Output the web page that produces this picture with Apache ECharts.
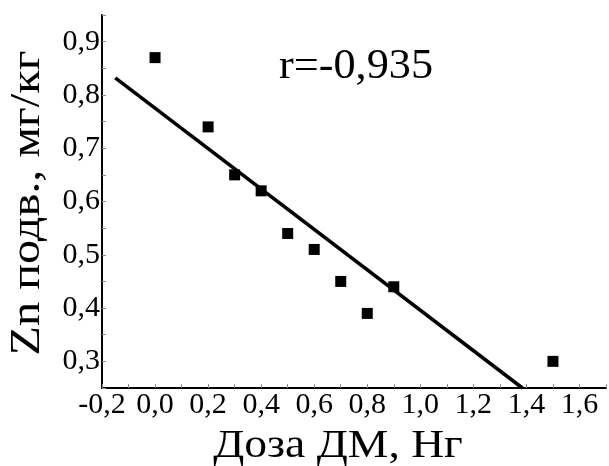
<!DOCTYPE html>
<html>
<head>
<meta charset="utf-8">
<script src="https://cdn.jsdelivr.net/npm/echarts@6/dist/echarts.min.js"></script>
<style>html,body{margin:0;padding:0;background:#fff}#c{width:609px;height:466px}</style>
</head>
<body>
<div id="c"></div>
<script>
const doseX = [0.0, 0.2, 0.3, 0.4, 0.5, 0.6, 0.7, 0.8, 0.9, 1.5];
const znY = [0.87, 0.74, 0.65, 0.62, 0.54, 0.51, 0.45, 0.39, 0.44, 0.30];
const fitX = [-0.15, 1.385];
const fitY = [0.832, 0.25];
const xTitle = 'Доза ДМ, Нг';
const yTitle = 'Zn подв., мг/кг';
const rText = 'r=-0,935';

const font = '"Liberation Serif", "Times New Roman", serif';
const chart = echarts.init(document.getElementById('c'), null, {renderer: 'canvas'});
const fmt = (v, step) => {
  const k = Math.round(v / step);
  if (k % 2 !== 0) return '';
  return (Math.round(v * 10) / 10).toFixed(1).replace('.', ',');
};
chart.setOption({
  animation: false,
  grid: {left: 102, top: 15, right: 0, bottom: 78},
  xAxis: {
    type: 'value', min: -0.2, max: 1.7, interval: 0.1,
    axisLine: {onZero: false, lineStyle: {color: '#000', width: 2}},
    axisTick: {inside: true, length: 4, lineStyle: {color: '#888', width: 1}},
    splitLine: {show: false},
    axisLabel: {color: '#000', fontFamily: font, fontSize: 30, margin: 2,
      formatter: v => v > 1.65 ? '' : fmt(v, 0.1)}
  },
  yAxis: {
    type: 'value', min: 0.25, max: 0.95, interval: 0.05,
    axisLine: {onZero: false, lineStyle: {color: '#000', width: 2}},
    axisTick: {inside: true, length: 4, lineStyle: {color: '#888', width: 1}},
    splitLine: {show: false},
    axisLabel: {color: '#000', fontFamily: font, fontSize: 30, margin: 2,
      formatter: v => fmt(v, 0.05)}
  },
  series: [
    {type: 'line', data: fitX.map((x, i) => [x, fitY[i]]), symbol: 'none',
      lineStyle: {color: '#000', width: 3.5}, silent: true},
    {type: 'scatter', data: doseX.map((x, i) => [x, znY[i]]), symbol: 'rect',
      symbolSize: 11, itemStyle: {color: '#000', opacity: 1}}
  ],
  graphic: [
    {type: 'text', x: 338, y: 426, scaleX: 1.14, style: {text: xTitle, font: '40px ' + font, fill: '#000',
      textAlign: 'center', textVerticalAlign: 'top'}},
    {type: 'text', x: 7, y: 203, rotation: Math.PI / 2, scaleX: 1.15, style: {text: yTitle, font: '42px ' + font,
      fill: '#000', textAlign: 'center', textVerticalAlign: 'top'}},
    {type: 'text', x: 279, y: 45, scaleX: 1.03, style: {text: rText, font: '43px ' + font, fill: '#000',
      textAlign: 'left', textVerticalAlign: 'top'}}
  ]
});
</script>
</body>
</html>
